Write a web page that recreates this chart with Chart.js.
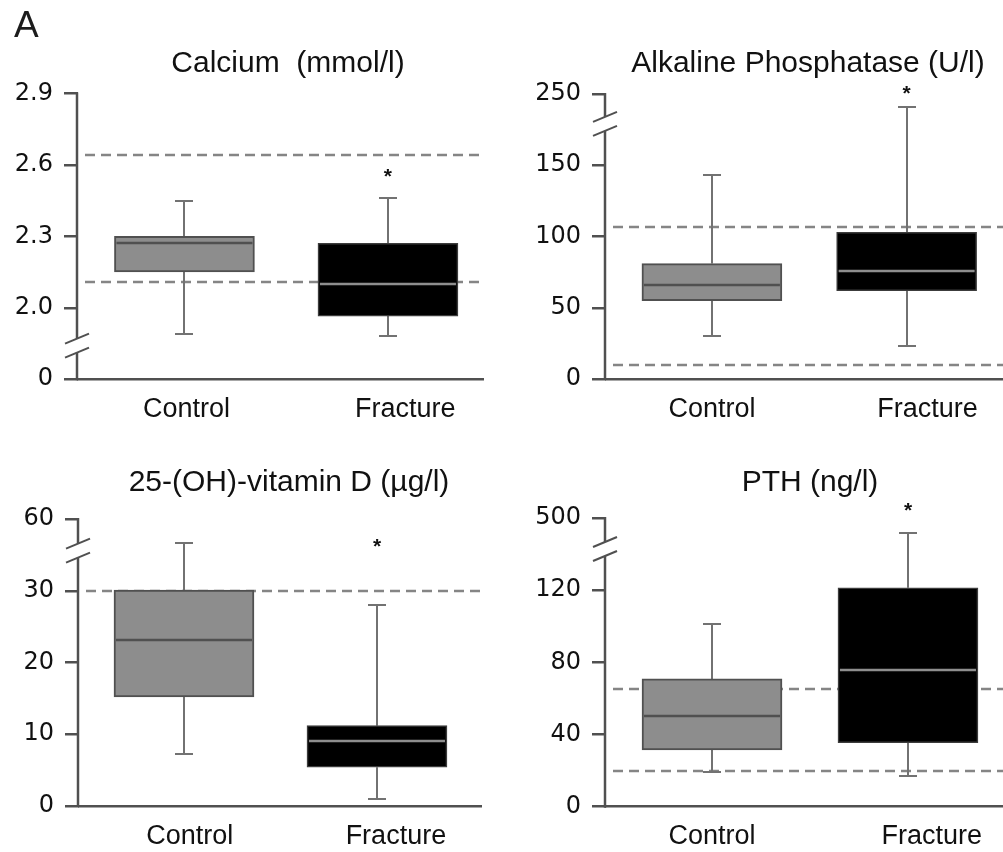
<!DOCTYPE html>
<html>
<head>
<meta charset="utf-8">
<script src="https://cdn.jsdelivr.net/npm/chart.js@4.4.1/dist/chart.umd.min.js"></script>
<style>
  html, body { margin: 0; padding: 0; background: #fff; }
  #wrap { position: relative; width: 1003px; height: 852px; }
  #wrap canvas { position: absolute; left: 0; top: 0; }
</style>
</head>
<body>
<div id="wrap">
  <canvas id="calcium" width="1003" height="852"></canvas>
  <canvas id="alp" width="1003" height="852"></canvas>
  <canvas id="vitd" width="1003" height="852"></canvas>
  <canvas id="pth" width="1003" height="852"></canvas>
</div>
<script>
// ---- data -------------------------------------------------------------
const groups = ['Control', 'Fracture'];

// Calcium (mmol/l)
const calciumTicks = ['0', '2.0', '2.3', '2.6', '2.9'];
const calciumMin = [1.89, 1.88];
const calciumQ1 = [2.15, 1.965];
const calciumMedian = [2.27, 2.10];
const calciumQ3 = [2.30, 2.27];
const calciumMax = [2.45, 2.46];
const calciumRef = [2.11, 2.64];

// Alkaline phosphatase (U/l)
const alpTicks = ['0', '50', '100', '150', '250'];
const alpMin = [30, 23];
const alpQ1 = [55, 62];
const alpMedian = [66, 76];
const alpQ3 = [81, 103];
const alpMax = [143, 218];
const alpRef = [10, 107];

// 25-(OH)-vitamin D (µg/l)
const vitdTicks = ['0', '10', '20', '30', '60'];
const vitdMin = [7.2, 1.0];
const vitdQ1 = [15.2, 5.4];
const vitdMedian = [23.2, 9.0];
const vitdQ3 = [30.1, 11.2];
const vitdMax = [41.4, 28];
const vitdRef = [30];

// PTH (ng/l)
const pthTicks = ['0', '40', '80', '120', '500'];
const pthMin = [19.4, 17];
const pthQ1 = [31.5, 35.5];
const pthMedian = [50, 75.5];
const pthQ3 = [70.8, 121.3];
const pthMax = [101, 331];
const pthRef = [20, 65];

// ---- panel layout -------------------------------------------------------
// Each y axis has one break: values up to brk.value sit on the ordinary
// linear part, the rest is squeezed between brk.at and the next tick.
const panels = [
  { canvas: 'calcium', title: 'Calcium  (mmol/l)', ticks: calciumTicks,
    min: calciumMin, q1: calciumQ1, med: calciumMedian, q3: calciumQ3, max: calciumMax, ref: calciumRef,
    brk: { value: 1.841, at: 0.47 },
    padLeft: 0, axisWidth: 78, right: 483, top: 93.4, bottom: 379.2,
    xRange: [-0.523, 1.467], labelAt: [0.01, 1.085],
    titleX: 288, titleY: 72, starGap: 27, tag: true },
  { canvas: 'alp', title: 'Alkaline Phosphatase (U/l)', ticks: alpTicks,
    min: alpMin, q1: alpQ1, med: alpMedian, q3: alpQ3, max: alpMax, ref: alpRef,
    brk: { value: 179, at: 3.58 },
    padLeft: 500, axisWidth: 106, right: 1003, top: 94, bottom: 379,
    xRange: [-0.544, 1.495], labelAt: [0, 1.107],
    titleX: 808, titleY: 72, starGap: 19 },
  { canvas: 'vitd', title: '25-(OH)-vitamin D (µg/l)', ticks: vitdTicks,
    min: vitdMin, q1: vitdQ1, med: vitdMedian, q3: vitdQ3, max: vitdMax, ref: vitdRef,
    brk: { value: 35.6, at: 3.56 },
    padLeft: 0, axisWidth: 79, right: 481, top: 519, bottom: 806,
    xRange: [-0.544, 1.539], labelAt: [0.03, 1.098],
    titleX: 289, titleY: 491, starGap: 64 },
  { canvas: 'pth', title: 'PTH (ng/l)', ticks: pthTicks,
    min: pthMin, q1: pthQ1, med: pthMedian, q3: pthQ3, max: pthMax, ref: pthRef,
    brk: { value: 142.8, at: 3.57 },
    padLeft: 500, axisWidth: 106, right: 1003, top: 518, bottom: 806.7,
    xRange: [-0.541, 1.485], labelAt: [0, 1.122],
    titleX: 810, titleY: 491, starGap: 28 }
];

const W = 1003, H = 852, X_AXIS_H = 60;
const AXIS = '#505050';
const BOX_FILL = ['#8d8d8d', '#000000'];
const BOX_EDGE = ['#505050', '#3c3c3c'];
const MEDIAN = ['#505050', '#8e8e8e'];

// value -> position on the axis (ticks sit at 0, 1, 2, ...)
function makeAxisMap(tickLabels, brk) {
  const knots = tickLabels.map((t, i) => [parseFloat(t), i])
    .concat([[brk.value, brk.at]])
    .sort((a, b) => a[1] - b[1]);
  return v => {
    let i = 0;
    while (i < knots.length - 2 && v > knots[i + 1][0]) i++;
    const [v0, u0] = knots[i], [v1, u1] = knots[i + 1];
    return u0 + (v - v0) * (u1 - u0) / (v1 - v0);
  };
}

function seg(ctx, x0, y0, x1, y1) {
  ctx.beginPath(); ctx.moveTo(x0, y0); ctx.lineTo(x1, y1); ctx.stroke();
}

function decorations(p, map) {
  return {
    id: 'boxDecor',
    beforeDatasetsDraw(chart) {
      const { ctx, chartArea: a, scales: { x, y } } = chart;
      ctx.save();
      // reference range
      ctx.strokeStyle = '#858585';
      ctx.lineWidth = 2.5;
      ctx.setLineDash([10, 6]);
      p.ref.forEach(v => {
        const py = Math.round(y.getPixelForValue(map(v)));
        seg(ctx, a.left + 7, py, a.right, py);
      });
      ctx.setLineDash([]);
      // whiskers
      ctx.strokeStyle = '#727272';
      ctx.lineWidth = 2;
      groups.forEach((g, i) => {
        const px = Math.round(x.getPixelForValue(i));
        const yMax = Math.round(y.getPixelForValue(map(p.max[i])));
        const yQ3 = y.getPixelForValue(map(p.q3[i]));
        const yQ1 = y.getPixelForValue(map(p.q1[i]));
        const yMin = Math.round(y.getPixelForValue(map(p.min[i])));
        seg(ctx, px, yQ3, px, yMax);
        seg(ctx, px - 9, yMax, px + 9, yMax);
        seg(ctx, px, yQ1, px, yMin);
        seg(ctx, px - 9, yMin, px + 9, yMin);
      });
      ctx.restore();
    },
    afterDatasetsDraw(chart) {
      const { ctx, scales: { y } } = chart;
      const bars = chart.getDatasetMeta(0).data;
      ctx.save();
      groups.forEach((g, i) => {
        const bar = bars[i];
        const py = Math.round(y.getPixelForValue(map(p.med[i])));
        ctx.strokeStyle = MEDIAN[i];
        ctx.lineWidth = 2.5;
        seg(ctx, bar.x - bar.width / 2 + 2, py, bar.x + bar.width / 2 - 2, py);
      });
      ctx.restore();
    },
    afterDraw(chart) {
      const { ctx, chartArea: a, scales: { x, y } } = chart;
      ctx.save();
      // y axis with its break marks
      const ax = Math.round(a.left) - 1;
      const yc = y.getPixelForValue(p.brk.at);
      const half = 7;
      ctx.strokeStyle = AXIS;
      ctx.lineWidth = 2.5;
      seg(ctx, ax, y.getPixelForValue(4) - 1, ax, yc - half);
      seg(ctx, ax, yc + half, ax, y.getPixelForValue(0) + 1);
      ctx.lineWidth = 2;
      seg(ctx, ax - 12, yc - half + 5, ax + 12, yc - half - 5);
      seg(ctx, ax - 12, yc + half + 5, ax + 12, yc + half - 5);
      // title
      ctx.fillStyle = '#111';
      ctx.font = '30px "Liberation Sans", Arial, sans-serif';
      ctx.textAlign = 'center';
      ctx.textBaseline = 'alphabetic';
      ctx.fillText(p.title, p.titleX, p.titleY);
      // significance marker above the fracture group
      const sx = x.getPixelForValue(1);
      const sy = y.getPixelForValue(map(p.max[1])) - p.starGap;
      ctx.font = 'bold 21px "Liberation Sans", Arial, sans-serif';
      ctx.fillText('*', sx, sy + 12);
      if (p.tag) {
        ctx.textAlign = 'left';
        ctx.fillStyle = '#1c1c1c';
        ctx.font = '37px "Liberation Sans", Arial, sans-serif';
        ctx.fillText('A', 14, 37);
      }
      ctx.restore();
    }
  };
}

panels.forEach(p => {
  const map = makeAxisMap(p.ticks, p.brk);
  new Chart(document.getElementById(p.canvas), {
    type: 'bar',
    data: {
      datasets: [{
        data: groups.map((g, i) => ({ x: i, y: [map(p.q1[i]), map(p.q3[i])] })),
        backgroundColor: BOX_FILL,
        borderColor: BOX_EDGE,
        borderWidth: [2, 1.5],
        borderSkipped: false,
        barThickness: 140
      }]
    },
    options: {
      responsive: false,
      animation: false,
      events: [],
      layout: {
        padding: {
          left: p.padLeft,
          right: W - p.right,
          top: p.top,
          bottom: H - p.bottom - X_AXIS_H
        }
      },
      plugins: { legend: { display: false }, tooltip: { enabled: false } },
      scales: {
        x: {
          type: 'linear',
          offset: false,
          min: p.xRange[0],
          max: p.xRange[1],
          afterBuildTicks: s => { s.ticks = p.labelAt.map(v => ({ value: v })); },
          afterFit: s => { s.height = X_AXIS_H; },
          grid: { display: false, drawTicks: false },
          border: { display: true, color: AXIS, width: 2.5 },
          ticks: {
            autoSkip: false, maxRotation: 0, padding: 14,
            color: '#111',
            font: { family: '"Liberation Sans", Arial, sans-serif', size: 27 },
            callback: (v, i) => groups[i]
          }
        },
        y: {
          type: 'linear',
          min: 0,
          max: 4,
          afterBuildTicks: s => { s.ticks = p.ticks.map((t, i) => ({ value: i })); },
          afterFit: s => { s.width = p.axisWidth; },
          grid: { display: true, drawOnChartArea: false, drawTicks: true, tickLength: 14, color: AXIS, lineWidth: 2.5 },
          border: { display: false },
          ticks: {
            padding: 11,
            color: '#111',
            font: { family: '"DejaVu Sans", sans-serif', size: 24 },
            callback: v => p.ticks[Math.round(v)]
          }
        }
      }
    },
    plugins: [decorations(p, map)]
  });
});
</script>
</body>
</html>
